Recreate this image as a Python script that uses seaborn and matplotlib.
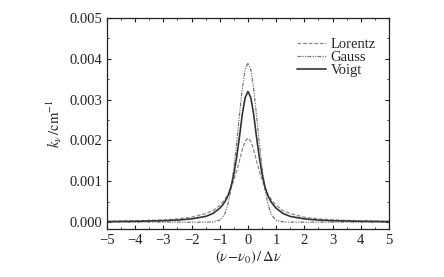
import numpy as np
import pandas as pd
import matplotlib
matplotlib.use("Agg")
import matplotlib.pyplot as plt
import seaborn as sns
from matplotlib.ticker import MultipleLocator

# values (symmetric about 0)
x_half = [0, 0.1, 0.2, 0.3, 0.4, 0.5, 0.6, 0.7, 0.8, 0.9, 1.0, 1.25, 1.5, 2.0, 2.5, 3.0, 4.0, 5.0]
lorentz_half = [0.00206, 0.00198, 0.00178, 0.00151, 0.00126, 0.00103, 0.00084, 0.00069, 0.00058,
                0.00049, 0.00041, 0.00028, 0.00021, 0.00012, 0.00008, 0.000056, 0.000032, 0.00002]
gauss_half = [0.0039, 0.00374, 0.00328, 0.00264, 0.00195, 0.00132, 0.00082, 0.00047, 0.00024,
              0.00012, 0.00005, 0.000004, 0.0, 0.0, 0.0, 0.0, 0.0, 0.0]
voigt_half = [0.0032, 0.00305, 0.00265, 0.00210, 0.00160, 0.00118, 0.00087, 0.00066, 0.00052,
              0.00042, 0.00034, 0.00021, 0.00014, 0.00008, 0.00005, 0.000035, 0.00002, 0.000013]


def mirror(xs, ys):
    xs = [-v for v in xs[:0:-1]] + xs
    ys = ys[:0:-1] + ys
    return xs, ys


sns.set_style("ticks")
plt.rcParams['font.family'] = ['Liberation Serif', 'DejaVu Serif']
plt.rcParams['mathtext.fontset'] = 'stix'
plt.rcParams['xtick.direction'] = 'in'
plt.rcParams['ytick.direction'] = 'in'

fig = plt.figure(figsize=(4.44, 2.77), dpi=100)
ax = fig.add_axes([0.241, 0.173, 0.635, 0.762])

styles = {
    'Lorentz': dict(color='#888888', linestyle=(0, (3, 1.5)), linewidth=0.9),
    'Gauss': dict(color='#777777', linestyle=(0, (3, 1, 1, 1, 1, 1)), linewidth=0.9),
    'Voigt': dict(color='#333333', linestyle='-', linewidth=1.2),
}
for name, half in [('Lorentz', lorentz_half), ('Gauss', gauss_half), ('Voigt', voigt_half)]:
    xs, ys = mirror(x_half, half)
    df = pd.DataFrame({'x': xs, 'k': ys})
    sns.lineplot(data=df, x='x', y='k', ax=ax, label=name, **styles[name])

ax.set_xlim(-5, 5)
ax.set_ylim(-0.00017, 0.005)
ax.xaxis.set_major_locator(MultipleLocator(1))
ax.xaxis.set_minor_locator(MultipleLocator(0.5))
ax.yaxis.set_major_locator(MultipleLocator(0.001))
ax.yaxis.set_minor_locator(MultipleLocator(0.0005))
ax.yaxis.set_major_formatter(plt.FormatStrFormatter('%.3f'))
ax.xaxis.set_major_formatter(plt.FuncFormatter(lambda v, p: f"{int(v)}".replace('-', '\u2212')))
ax.tick_params(which='both', top=True, right=True, labelsize=10.5, colors='#222222')
ax.tick_params(which='major', length=3)
ax.tick_params(which='minor', length=1.5)
for s in ax.spines.values():
    s.set_linewidth(0.9)
    s.set_color('#222222')

ax.set_xlabel(r'$(\nu\!-\!\nu_0)\,/\,\Delta\nu$', fontsize=10.5, labelpad=1)
ax.set_ylabel(r'$k_\nu\,/\mathrm{cm}^{-1}$', fontsize=10.5, labelpad=4)

leg = ax.legend(loc='upper right', bbox_to_anchor=(1.0, 0.97), frameon=False, fontsize=10.5,
                handlelength=2.0, handletextpad=0.3, labelspacing=0.0)

fig.savefig('out.png', dpi=100)
